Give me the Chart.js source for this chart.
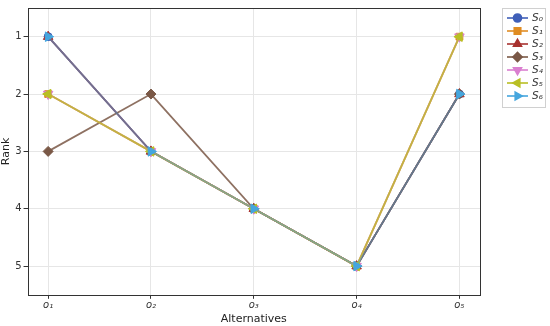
<!DOCTYPE html>
<html>
<head>
<meta charset="utf-8">
<script src="https://cdn.jsdelivr.net/npm/chart.js@4"></script>
<style>
  html, body { margin: 0; padding: 0; background: #fff; }
  #wrap { width: 550px; height: 326px; }
</style>
</head>
<body>
<div id="wrap"><canvas id="myChart" width="550" height="326"></canvas></div>
<script>
// alternatives o1..o5 on x, rank on y (1 = best, drawn at top)
const alternatives = ['o₁', 'o₂', 'o₃', 'o₄', 'o₅'];
const seriesNames = ['S₀', 'S₁', 'S₂', 'S₃', 'S₄', 'S₅', 'S₆'];
const rankTicks = [1, 2, 3, 4, 5];

const s0 = [1, 3, 4, 5, 2];
const s1 = [2, 3, 4, 5, 1];
const s2 = [1, 3, 4, 5, 2];
const s3 = [3, 2, 4, 5, 2];
const s4 = [2, 3, 4, 5, 1];
const s5 = [2, 3, 4, 5, 1];
const s6 = [1, 3, 4, 5, 2];

const seriesValues = [s0, s1, s2, s3, s4, s5, s6];
const colors = ['#3f5fb8', '#e08c22', '#a8322f', '#7a5846', '#da7fd0', '#b9bf24', '#45a6de'];
const lineColors = ['rgba(63,95,184,0.8)', 'rgba(224,140,34,0.8)', 'rgba(168,50,47,0.8)', 'rgba(122,88,70,0.85)',
                    'rgba(218,127,208,0.6)', 'rgba(185,191,36,0.75)', 'rgba(69,166,222,0.45)'];
const markers = [
  { style: 'circle', rot: 0, r: 4 },
  { style: 'rect', rot: 0, r: 4.8 },
  { style: 'triangle', rot: 0, r: 5.5 },
  { style: 'rectRot', rot: 0, r: 5 },
  { style: 'triangle', rot: 180, r: 5.5 },
  { style: 'triangle', rot: -90, r: 5.5 },
  { style: 'triangle', rot: 90, r: 5.5 }
];

const datasets = seriesValues.map((vals, i) => ({
  label: seriesNames[i],
  data: vals.map((v, k) => ({ x: k, y: v })),
  borderColor: lineColors[i],
  backgroundColor: colors[i],
  pointBorderColor: colors[i],
  borderWidth: 1.8,
  pointStyle: markers[i].style,
  pointRotation: markers[i].rot,
  rotation: markers[i].rot,
  pointRadius: markers[i].r,
  pointHoverRadius: markers[i].r,
  pointBorderWidth: 1,
  order: seriesValues.length - 1 - i
}));

// frame around the plot area
const frame = {
  id: 'frame',
  afterDraw(chart) {
    const a = chart.chartArea, c = chart.ctx;
    c.save();
    c.strokeStyle = '#333';
    c.lineWidth = 1;
    c.strokeRect(Math.round(a.left) + 0.5, Math.round(a.top) + 0.5, Math.round(a.right - a.left), Math.round(a.bottom - a.top));
    c.restore();
  }
};

// matplotlib-like legend box outside the plot, top right
const sideLegend = {
  id: 'sideLegend',
  afterDraw(chart) {
    const c = chart.ctx;
    const x0 = 502, y0 = 8, w = 43, rowH = 13;
    const h = rowH * datasets.length + 8;
    c.save();
    c.fillStyle = '#fff';
    c.strokeStyle = '#d0d0d0';
    c.lineWidth = 1;
    c.fillRect(x0 + 0.5, y0 + 0.5, w, h);
    c.strokeRect(x0 + 0.5, y0 + 0.5, w, h);
    datasets.forEach((ds, i) => {
      const cy = y0 + 10 + i * rowH;
      c.strokeStyle = ds.pointBorderColor;
      c.lineWidth = 1.6;
      c.beginPath();
      c.moveTo(x0 + 5, cy);
      c.lineTo(x0 + 26, cy);
      c.stroke();
      c.fillStyle = ds.backgroundColor;
      Chart.helpers.drawPoint(c, { pointStyle: ds.pointStyle, rotation: ds.rotation, radius: Math.min(ds.pointRadius, 4.6), borderWidth: 1 }, x0 + 15.5, cy);
      c.fillStyle = '#333';
      c.font = 'italic 10.5px "DejaVu Sans"';
      c.textBaseline = 'middle';
      c.fillText(ds.label, x0 + 30, cy);
    });
    c.restore();
  }
};

const ctx = document.getElementById('myChart');

new Chart(ctx, {
  type: 'line',
  data: { datasets: datasets },
  plugins: [frame, sideLegend],
  options: {
    responsive: false,
    animation: false,
    layout: { padding: { left: 0, right: 70, top: 0, bottom: 0 } },
    plugins: {
      legend: { display: false },
      tooltip: { enabled: false }
    },
    scales: {
      x: {
        type: 'linear',
        min: -0.2,
        max: 4.2,
        afterBuildTicks: (axis) => { axis.ticks = alternatives.map((_, k) => ({ value: k })); },
        ticks: {
          callback: (v) => alternatives[v],
          font: { family: 'DejaVu Sans', size: 10, style: 'italic' },
          color: '#333',
          padding: 1
        },
        grid: { color: '#e6e6e6', tickLength: 4, drawTicks: true, tickColor: '#333' },
        border: { display: false },
        title: {
          display: true,
          text: 'Alternatives',
          font: { family: 'DejaVu Sans', size: 11 },
          color: '#222',
          padding: { top: 0, bottom: 0 }
        }
      },
      y: {
        type: 'linear',
        reverse: true,
        min: 0.5,
        max: 5.5,
        afterBuildTicks: (axis) => { axis.ticks = rankTicks.map(v => ({ value: v })); },
        ticks: {
          font: { family: 'DejaVu Sans', size: 10 },
          color: '#333',
          padding: 2
        },
        grid: { color: '#e6e6e6', tickLength: 4, drawTicks: true, tickColor: '#333' },
        border: { display: false },
        title: {
          display: true,
          text: 'Rank',
          font: { family: 'DejaVu Sans', size: 11 },
          color: '#222',
          padding: { top: 0, bottom: 0 }
        }
      }
    }
  }
});
</script>
</body>
</html>
